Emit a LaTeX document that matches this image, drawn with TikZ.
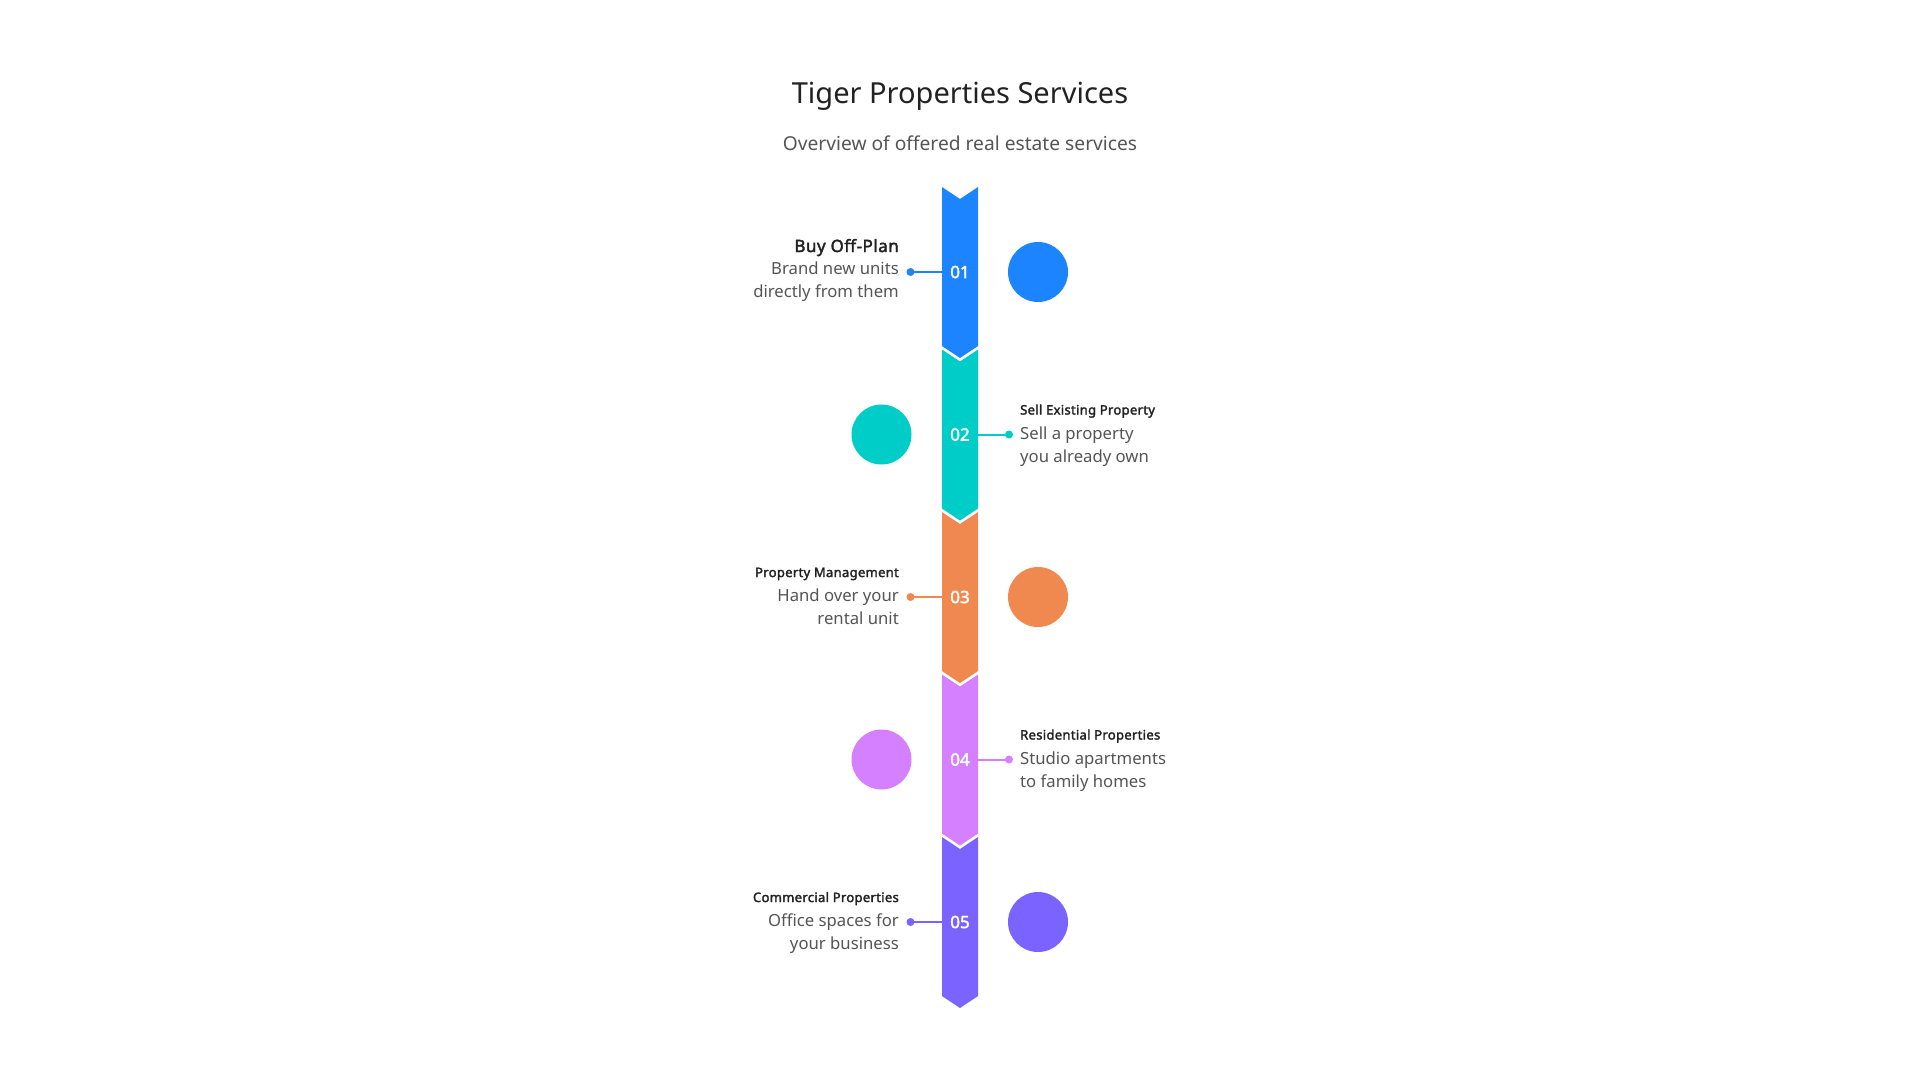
\documentclass[tikz,border=0pt]{standalone}
\usepackage{fontspec}
\setmainfont{Noto Sans}[BoldFont={Noto Sans}, BoldFeatures={FakeBold=2.2}]
\definecolor{cA}{HTML}{1D84FF}
\definecolor{cB}{HTML}{00CCC8}
\definecolor{cC}{HTML}{F0894F}
\definecolor{cD}{HTML}{D580FF}
\definecolor{cE}{HTML}{7B63FF}
\definecolor{ink}{HTML}{222222}
\definecolor{gray}{HTML}{555555}
\tikzset{
  titletxt/.style={font=\fontsize{29}{34}\selectfont, text=ink, inner sep=0pt, anchor=base},
  subtxt/.style={font=\fontsize{19.2}{23}\selectfont, text=gray, inner sep=0pt, anchor=base},
  headbig/.style={font=\bfseries\fontsize{17}{20}\selectfont\addfontfeatures{LetterSpace=3}, text=ink, inner sep=0pt},
  headsm/.style={font=\bfseries\fontsize{13}{15}\selectfont\addfontfeatures{LetterSpace=2.5}, text=ink, inner sep=0pt},
  desc/.style={font=\fontsize{16.7}{20}\selectfont, text=gray, inner sep=0pt},
  num/.style={font=\bfseries\fontsize{17}{20}\selectfont, text=white, inner sep=0pt, minimum width=36pt, minimum height=20pt},
  dotnode/.style={circle, inner sep=0pt, minimum size=8pt},
  bigcirc/.style={circle, inner sep=0pt, minimum size=60pt},
  conn/.style={line width=2pt},
}
\newcommand{\chev}[2]{% color, center y
  \fill[#1] (942,#2-85) -- (960,#2-73) -- (978,#2-85) -- (978,#2+74) -- (960,#2+86) -- (942,#2+74) -- cycle;}
\begin{document}
\begin{tikzpicture}[x=1pt,y=-1pt]
\useasboundingbox (0,0) rectangle (1920,1080);
\fill[white] (0,0) rectangle (1920,1080);

\node[titletxt] (title) at (960,103) {Tiger Properties Services};
\node[subtxt] (subtitle) at (960,150) {Overview of offered real estate services};

% bar segments
\chev{cA}{272}
\chev{cB}{434.5}
\chev{cC}{597}
\chev{cD}{759.5}
\chev{cE}{922}

\node[num] (n1) at (960,272) {01};
\node[num] (n2) at (960,434.5) {02};
\node[num] (n3) at (960,597) {03};
\node[num] (n4) at (960,759.5) {04};
\node[num] (n5) at (960,922) {05};

% circles
\node[bigcirc, fill=cA] (c1) at (1038,272) {};
\node[bigcirc, fill=cB] (c2) at (881.5,434.5) {};
\node[bigcirc, fill=cC] (c3) at (1038,597) {};
\node[bigcirc, fill=cD] (c4) at (881.5,759.5) {};
\node[bigcirc, fill=cE] (c5) at (1038,922) {};

% dots and connectors
\node[dotnode, fill=cA] (d1) at (910.5,272) {};
\node[dotnode, fill=cB] (d2) at (1009,434.5) {};
\node[dotnode, fill=cC] (d3) at (910.5,597) {};
\node[dotnode, fill=cD] (d4) at (1009,759.5) {};
\node[dotnode, fill=cE] (d5) at (910.5,922) {};
\draw[conn, cA] (d1.center) -- (n1.west);
\draw[conn, cB] (d2.center) -- (n2.east);
\draw[conn, cC] (d3.center) -- (n3.west);
\draw[conn, cD] (d4.center) -- (n4.east);
\draw[conn, cE] (d5.center) -- (n5.west);

% item 1 (left)
\node[headbig, anchor=base east] (h1) at (899,252) {Buy Off-Plan};
\node[desc, anchor=base east] (t1a) at (899,274) {Brand new units};
\node[desc, anchor=base east] (t1b) at (899,297) {directly from them};
% item 2 (right)
\node[headsm, anchor=base west] (h2) at (1020,414.5) {Sell Existing Property};
\node[desc, anchor=base west] (t2a) at (1020,439) {Sell a property};
\node[desc, anchor=base west] (t2b) at (1020,462) {you already own};
% item 3 (left)
\node[headsm, anchor=base east] (h3) at (899,577) {Property Management};
\node[desc, anchor=base east] (t3a) at (899,601.5) {Hand over your};
\node[desc, anchor=base east] (t3b) at (899,624.5) {rental unit};
% item 4 (right)
\node[headsm, anchor=base west] (h4) at (1020,739.5) {Residential Properties};
\node[desc, anchor=base west] (t4a) at (1020,764) {Studio apartments};
\node[desc, anchor=base west] (t4b) at (1020,787) {to family homes};
% item 5 (left)
\node[headsm, anchor=base east] (h5) at (899,902) {Commercial Properties};
\node[desc, anchor=base east] (t5a) at (899,926.5) {Office spaces for};
\node[desc, anchor=base east] (t5b) at (899,949.5) {your business};
\end{tikzpicture}
\end{document}
